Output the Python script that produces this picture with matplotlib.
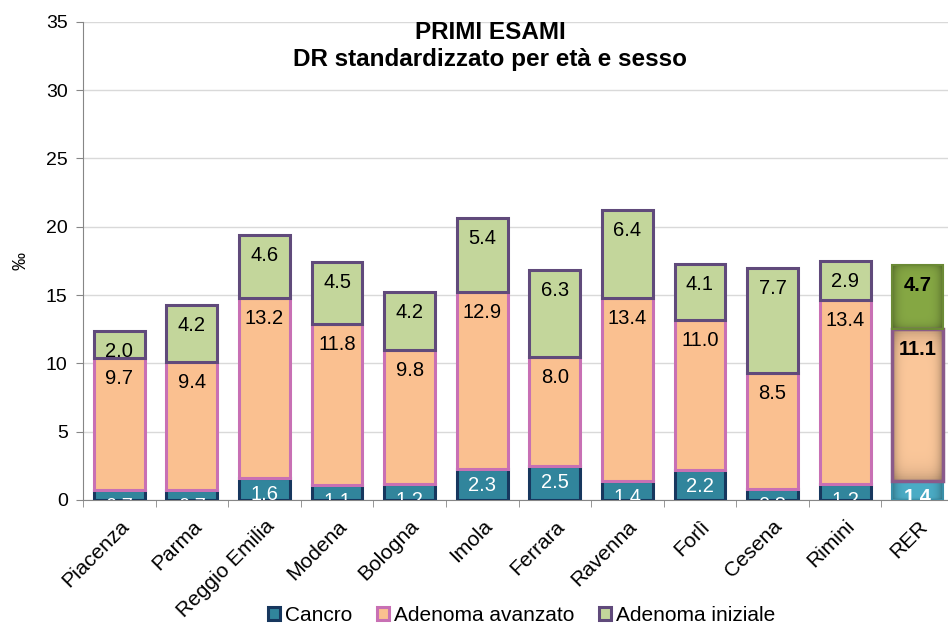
import numpy as np
import matplotlib
matplotlib.use("Agg")
from matplotlib import pyplot as plt
from matplotlib.patches import Patch, Rectangle

plt.rcParams['font.family'] = ['Liberation Sans', 'DejaVu Sans']

# data
places = ['Piacenza', 'Parma', 'Reggio Emilia', 'Modena', 'Bologna', 'Imola',
          'Ferrara', 'Ravenna', 'Forlì', 'Cesena', 'Rimini', 'RER']
cancro = [0.7, 0.7, 1.6, 1.1, 1.2, 2.3, 2.5, 1.4, 2.2, 0.8, 1.2, 1.4]
avanzato = [9.7, 9.4, 13.2, 11.8, 9.8, 12.9, 8.0, 13.4, 11.0, 8.5, 13.4, 11.1]
iniziale = [2.0, 4.2, 4.6, 4.5, 4.2, 5.4, 6.3, 6.4, 4.1, 7.7, 2.9, 4.7]
series_names = ['Cancro', 'Adenoma avanzato', 'Adenoma iniziale']

fig = plt.figure(figsize=(9.48, 6.26), dpi=100)
ax = fig.add_axes([83/948, 1 - 500/626, 871/948, 478.3/626])

x = np.arange(len(places))
w = 0.7
cancro = np.array(cancro)
avanzato = np.array(avanzato)
iniziale = np.array(iniziale)

fills = ['#31859C', '#FAC090', '#C3D69B']
edges = ['#17375E', '#C870B4', '#604A7B']
rer_fills = ['#4BACC6', '#FBC79A', '#86A844']
rer_edges = ['#3A8FA8', '#8A5A8A', '#6B8A35']

bottoms = [np.zeros(len(x)), cancro, cancro + avanzato]
values = [cancro, avanzato, iniziale]

for i in range(3):
    fc = [fills[i]] * 11 + [rer_fills[i]]
    ec = [edges[i]] * 11 + ['none']
    bars = ax.bar(x, values[i], w, bottom=bottoms[i], color=fc, edgecolor=ec,
                  linewidth=2.2, zorder=3)
    # bevel look for RER
    rb = bars[-1]
    x0, y0, hh = rb.get_x(), rb.get_y(), rb.get_height()
    gx = 1 - 0.3 * np.abs(np.linspace(-1, 1, 100)) ** 5
    gy = 1 - 0.2 * np.abs(np.linspace(-1, 1, 60)) ** 8
    base = np.array(matplotlib.colors.to_rgb(rer_fills[i]))
    img = np.clip(gy[:, None, None] * gx[None, :, None] * base[None, None, :], 0, 1)
    im = ax.imshow(img, extent=[x0, x0 + w, y0, y0 + hh], aspect='auto',
                   zorder=3.5, origin='lower')
    im.set_clip_path(rb)
    ax.add_patch(Rectangle((x0, y0), w, hh, fill=False, edgecolor=rer_edges[i],
                           linewidth=2.5 if i == 1 else 1.5, zorder=4))
    for j, b in enumerate(bars):
        top = bottoms[i][j] + values[i][j]
        color = 'white' if i == 0 else 'black'
        weight = 'bold' if j == 11 else 'normal'
        off = -7 if i == 0 else -11
        ax.annotate(f'{values[i][j]:.1f}', (x[j], top), xytext=(0, off),
                    textcoords='offset pixels', ha='center', va='top',
                    fontsize=14.5, color=color, fontweight=weight,
                    zorder=5, annotation_clip=False, clip_on=True)

ax.set_xlim(-0.5, 11.5)
ax.set_ylim(0, 35)
ax.set_yticks(range(0, 36, 5))
ax.grid(axis='y', color='#D9D9D9', linewidth=1, zorder=0)
ax.set_xticks(x)
ax.set_xticklabels(places, rotation=45, ha='right', rotation_mode='anchor',
                   fontsize=15)
ax.set_xticks(np.arange(-0.5, 12, 1), minor=True)
ax.tick_params(axis='x', which='major', length=0, pad=12)
ax.tick_params(axis='x', which='minor', length=5, color='#868686', direction='out')
ax.tick_params(axis='y', labelsize=14, length=5, color='#868686', pad=6)
for s in ['top', 'right']:
    ax.spines[s].set_visible(False)
for s in ['left', 'bottom']:
    ax.spines[s].set_color('#868686')
ax.set_ylabel('‰', fontsize=13, labelpad=12)

fig.text(0.517, 0.9377, 'PRIMI ESAMI', ha='center', va='baseline',
         fontsize=17.5, fontweight='bold')
fig.text(0.517, 0.8946, 'DR standardizzato per età e sesso', ha='center',
         va='baseline', fontsize=17.5, fontweight='bold')

handles = [Patch(facecolor=fills[i], edgecolor=edges[i], linewidth=2.2,
                 label=series_names[i]) for i in range(3)]
fig.legend(handles=handles, loc='center', bbox_to_anchor=(0.55, 0.017),
           ncol=3, frameon=False, fontsize=15, handlelength=0.6,
           handleheight=0.6, handletextpad=0.2, columnspacing=1.2)

fig.savefig('out.png', dpi=100)
